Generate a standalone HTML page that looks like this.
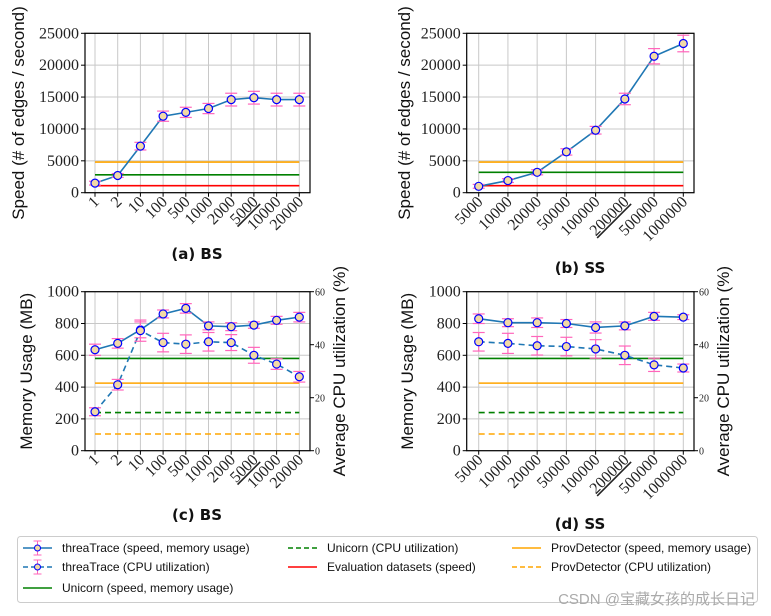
<!DOCTYPE html>
<html><head><meta charset="utf-8">
<style>
html,body{margin:0;padding:0;background:#fff;}
svg{display:block;}
</style></head>
<body>
<svg id="fig" width="771" height="616" viewBox="0 0 771 616" xmlns="http://www.w3.org/2000/svg"></svg>
<script>
const bsCats=["1","2","10","100","500","1000","2000","5000","10000","20000"];
const ssCats=["5000","10000","20000","50000","100000","200000","500000","1000000"];
const bsSpeed=[1500,2700,7300,12000,12600,13200,14600,14900,14600,14600];
const bsSpeedErr=[300,300,600,800,800,800,1000,1000,1000,1000];
const ssSpeed=[1000,1900,3200,6400,9800,14700,21400,23400];
const ssSpeedErr=[300,300,400,500,600,900,1200,1300];
const bsRef=[4800,2800,1100];
const ssRef=[4800,3200,1100];
const bsMem=[635,675,760,860,895,785,780,790,820,840];
const bsMemErr=[35,30,50,25,30,25,25,20,25,30];
const bsCpu=[14.7,24.9,45.3,40.8,40.2,41.1,40.8,36,32.7,27.9];
const bsCpuErr=[1.5,2,4,3.5,3.5,3.5,3,3,2,2];
const ssMem=[830,805,805,800,775,785,845,840];
const ssMemErr=[30,25,30,25,35,25,25,15];
const ssCpu=[41.1,40.5,39.6,39.3,38.4,36,32.4,31.2];
const ssCpuErr=[3.5,3.8,3.5,3.5,3.5,3.5,2.5,1.5];
const memRef=[580,425];
const cpuRef=[14.4,6.3];
const speedTicks=[0,5000,10000,15000,20000,25000];
const memTicks=[0,200,400,600,800,1000];
const cpuTicks=[0,20,40,60];

const NS="http://www.w3.org/2000/svg";
const fig=document.getElementById('fig');
const SERIF='font-family:"Liberation Serif",serif;font-size:16px;fill:#222;';
const SERIFS='font-family:"Liberation Serif",serif;font-size:10px;fill:#222;';
const SANS='font-family:"Liberation Sans",sans-serif;font-size:17px;fill:#111;';
const CAP='font-family:"DejaVu Sans","Liberation Sans",sans-serif;font-size:15px;font-weight:bold;fill:#111;';
const LEG='font-family:"Liberation Sans",sans-serif;font-size:12px;fill:#111;';
function el(tag,attrs,parent,txt){const e=document.createElementNS(NS,tag);for(const k in attrs)e.setAttribute(k,attrs[k]);if(txt!==undefined)e.textContent=txt;(parent||fig).appendChild(e);return e;}
const BLUE="#1f77b4",PINK="#ff66bb",GREEN="#008000",ORANGE="orange",RED="red";

function panel(o){
  const g=el('g',{});
  
  
  const L=o.left,R=o.right,T=o.top,B=o.bottom,n=o.cats.length;
  const x0=o.x0,x1=o.x1;
  const X=i=>x0+(x1-x0)*i/(n-1);
  const Y=v=>B-(B-T)*(v-o.ymin)/(o.ymax-o.ymin);
  const Y2=v=>B-(B-T)*v/60;
  o.yticks.forEach(v=>{const l=el('line',{x1:L,x2:R,y1:Y(v),y2:Y(v),stroke:'#c8c8c8','stroke-width':1},g);});
  o.cats.forEach((c,i)=>{const l=el('line',{x1:X(i),x2:X(i),y1:T,y2:B,stroke:'#c8c8c8','stroke-width':1},g);});
  o.refs.forEach(r=>{const l=el('line',{x1:X(0),x2:X(n-1),y1:r.ax2?Y2(r.v):Y(r.v),y2:r.ax2?Y2(r.v):Y(r.v),stroke:r.c,'stroke-width':1.6,'stroke-dasharray':r.dash?'6,4':'none'},g);});
  o.series.forEach(s=>{
    const Yf=s.ax2?Y2:Y;
    const pts=s.vals.map((v,i)=>X(i)+','+Yf(v)).join(' ');
    const pl=el('polyline',{points:pts,fill:'none',stroke:BLUE,'stroke-width':1.6,'stroke-dasharray':s.dash?'6,4':'none'},g);
    
    s.vals.forEach((v,i)=>{
      const e=s.err[i],x=X(i);
      const eb=el('g',{stroke:PINK,'stroke-width':1.2},g);
      
      el('line',{x1:x,x2:x,y1:Yf(v-e),y2:Yf(v+e)},eb);
      el('line',{x1:x-6,x2:x+6,y1:Yf(v-e),y2:Yf(v-e)},eb);
      el('line',{x1:x-6,x2:x+6,y1:Yf(v+e),y2:Yf(v+e)},eb);
    });
    s.vals.forEach((v,i)=>{const c=el('circle',{cx:X(i),cy:Yf(v),r:4,fill:'#f2d9a6',stroke:'blue','stroke-width':1.2},g);});
  });
  const fr=el('rect',{x:L,y:T,width:R-L,height:B-T,fill:'none',stroke:'#000','stroke-width':1.2},g);
  
  o.yticks.forEach(v=>{el('line',{x1:L-4,x2:L,y1:Y(v),y2:Y(v),stroke:'#000'},g);const t=el('text',{x:L-6,y:Y(v)+5,'text-anchor':'end',style:SERIF},g,String(v));});
  if(o.right2){cpuTicks.forEach(v=>{el('line',{x1:R,x2:R+4,y1:Y2(v),y2:Y2(v),stroke:'#000'},g);const t=el('text',{x:R+5,y:Y2(v)+4,style:SERIFS},g,String(v));});
    const t=el('text',{transform:`translate(${R+35},${(T+B)/2}) rotate(-90)`,'text-anchor':'middle',style:SANS},g,'Average CPU utilization (%)');}
  o.cats.forEach((c,i)=>{el('line',{x1:X(i),x2:X(i),y1:B,y2:B+4,stroke:'#000'},g);
    const t=el('text',{transform:`translate(${X(i)+5},${B+10}) rotate(-45)`,'text-anchor':'end',style:SERIF,'text-decoration':c===o.under?'underline':'none'},g,c);
    });
  const yl=el('text',{transform:`translate(${o.ylx},${(T+B)/2}) rotate(-90)`,'text-anchor':'middle',style:SANS},g,o.ylabel);
  
  const cp=el('text',{x:o.capx,y:o.capy,'text-anchor':'middle',style:CAP},g,o.cap);
  
}
const bsX={left:85,right:310,x0:95,x1:299.3};
const ssX={left:466.7,right:694,x0:478.7,x1:683.3};
const spRefs=r=>[{v:r[0],c:ORANGE,name:'provdetector-speed'},{v:r[1],c:GREEN,name:'unicorn-speed'},{v:r[2],c:RED,name:'dataset-speed'}];
const memRefs=[{v:memRef[0],c:GREEN,name:'unicorn-memory'},{v:memRef[1],c:ORANGE,name:'provdetector-memory'},{v:cpuRef[0],c:GREEN,dash:1,ax2:1,name:'unicorn-cpu'},{v:cpuRef[1],c:ORANGE,dash:1,ax2:1,name:'provdetector-cpu'}];
panel(Object.assign({name:'chart-a-bs-speed',top:33.3,bottom:192.7,cats:bsCats,ymin:0,ymax:25000,yticks:speedTicks,refs:spRefs(bsRef),series:[{name:'threatrace-speed',vals:bsSpeed,err:bsSpeedErr}],under:'5000',ylabel:'Speed (# of edges / second)',ylx:24,cap:'(a) BS',capx:197,capy:259},bsX));
panel(Object.assign({name:'chart-b-ss-speed',top:33.3,bottom:192.7,cats:ssCats,ymin:0,ymax:25000,yticks:speedTicks,refs:spRefs(ssRef),series:[{name:'threatrace-speed',vals:ssSpeed,err:ssSpeedErr}],under:'200000',ylabel:'Speed (# of edges / second)',ylx:410,cap:'(b) SS',capx:580,capy:273},ssX));
panel(Object.assign({name:'chart-c-bs-memory',top:291.7,bottom:450.7,cats:bsCats,ymin:0,ymax:1000,yticks:memTicks,refs:memRefs,right2:1,series:[{name:'threatrace-memory',vals:bsMem,err:bsMemErr},{name:'threatrace-cpu',vals:bsCpu,err:bsCpuErr,dash:1,ax2:1}],under:'5000',ylabel:'Memory Usage (MB)',ylx:32,cap:'(c) BS',capx:197,capy:520},bsX));
panel(Object.assign({name:'chart-d-ss-memory',top:291.7,bottom:450.7,cats:ssCats,ymin:0,ymax:1000,yticks:memTicks,refs:memRefs,right2:1,series:[{name:'threatrace-memory',vals:ssMem,err:ssMemErr},{name:'threatrace-cpu',vals:ssCpu,err:ssCpuErr,dash:1,ax2:1}],under:'200000',ylabel:'Memory Usage (MB)',ylx:413,cap:'(d) SS',capx:580,capy:529},ssX));

const lg=el('g',{});


el('rect',{x:17.5,y:536.5,width:740,height:66,rx:3,fill:'#fff',stroke:'#ccc'},lg);
const items=[
 {x:23,y:548,c:BLUE,marker:1,t:'threaTrace (speed, memory usage)'},
 {x:23,y:567,c:BLUE,marker:1,dash:1,t:'threaTrace (CPU utilization)'},
 {x:23,y:588,c:GREEN,t:'Unicorn (speed, memory usage)'},
 {x:288,y:548,c:GREEN,dash:1,t:'Unicorn (CPU utilization)'},
 {x:288,y:567,c:RED,t:'Evaluation datasets (speed)'},
 {x:512,y:548,c:ORANGE,t:'ProvDetector (speed, memory usage)'},
 {x:512,y:567,c:ORANGE,dash:1,t:'ProvDetector (CPU utilization)'}];
items.forEach(it=>{
  const g=el('g',{},lg);
  
  
  el('line',{x1:it.x,x2:it.x+29,y1:it.y,y2:it.y,stroke:it.c,'stroke-width':1.6,'stroke-dasharray':it.dash?'5,3':'none'},g);
  if(it.marker){const cx=it.x+14.5;el('line',{x1:cx,x2:cx,y1:it.y-7,y2:it.y+7,stroke:PINK},g);el('line',{x1:cx-4,x2:cx+4,y1:it.y-7,y2:it.y-7,stroke:PINK},g);el('line',{x1:cx-4,x2:cx+4,y1:it.y+7,y2:it.y+7,stroke:PINK},g);el('circle',{cx:cx,cy:it.y,r:3,fill:'#f2d9a6',stroke:'blue'},g);}
  el('text',{x:it.x+39,y:it.y+4,style:LEG},g,it.t);
});
const wm=el('text',{x:755,y:604,'text-anchor':'end',style:'font-family:"Liberation Sans","Noto Sans CJK SC",sans-serif;font-size:15px;fill:#aaa;'},fig,'CSDN @宝藏女孩的成长日记');


</script>
</body></html>
